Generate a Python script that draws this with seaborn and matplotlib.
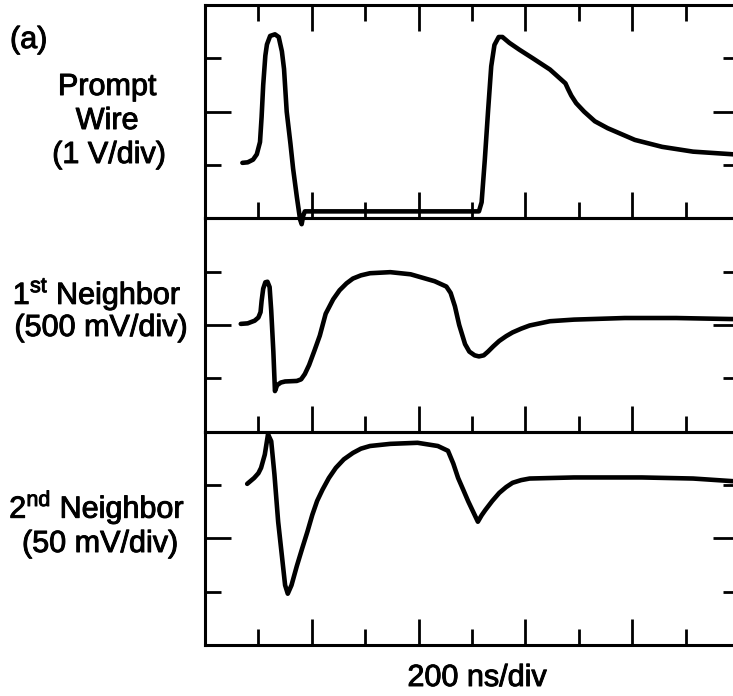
import numpy as np
import pandas as pd
import matplotlib
matplotlib.use("Agg")
import matplotlib.pyplot as plt
import matplotlib.patheffects as pe
import seaborn as sns
from matplotlib.ticker import FixedLocator

sns.set_style("white")
plt.rcParams['font.family'] = ['Liberation Sans', 'DejaVu Sans']
plt.rcParams['mathtext.fontset'] = 'custom'
plt.rcParams['mathtext.rm'] = 'Liberation Sans'

# ---- data (x in time divisions of 200 ns, y in vertical divisions) ----
prompt_x = [0.70, 0.80, 0.90, 0.97, 1.03, 1.06, 1.09, 1.13, 1.16, 1.22, 1.31, 1.38, 1.44, 1.48, 1.53, 1.60, 1.65, 1.72, 1.78, 1.81, 1.84, 1.87,
            5.13, 5.18, 5.24, 5.30, 5.36, 5.42, 5.50, 5.57, 5.70, 5.89, 6.14, 6.46, 6.75, 6.80, 6.86, 6.95, 7.10, 7.30, 7.54, 8.05, 8.56, 9.14, 9.89, 10.0]
prompt_y = [-0.96, -0.95, -0.90, -0.80, -0.57, -0.10, 0.50, 1.05, 1.26, 1.42, 1.45, 1.40, 1.13, 0.80, 0.0, -0.60, -1.07, -1.60, -2.02, -2.11, -1.95, -1.87,
            -1.87, -1.70, -0.90, 0.00, 0.85, 1.25, 1.40, 1.40, 1.29, 1.16, 1.00, 0.79, 0.53, 0.42, 0.30, 0.16, 0.00, -0.18, -0.31, -0.53, -0.66, -0.75, -0.80, -0.81]

first_x = [0.67, 0.80, 0.93, 1.00, 1.04, 1.06, 1.09, 1.13, 1.17, 1.21, 1.24, 1.28, 1.31, 1.35, 1.42, 1.50, 1.72, 1.80, 1.87, 1.95,
           2.05, 2.15, 2.26, 2.40, 2.52, 2.65, 2.77, 2.92, 3.09, 3.47, 3.85, 4.30, 4.52, 4.60, 4.68, 4.76, 4.87, 4.95, 5.05, 5.13,
           5.22, 5.30, 5.40, 5.51, 5.64, 5.76, 5.92, 6.08, 6.46, 6.91, 7.86, 8.82, 9.89, 10.0]
first_y = [0.02, 0.03, 0.08, 0.14, 0.24, 0.45, 0.68, 0.80, 0.81, 0.71, 0.27, -0.50, -1.24, -1.13, -1.08, -1.06, -1.05, -1.02, -0.92, -0.75,
           -0.48, -0.20, 0.21, 0.48, 0.65, 0.78, 0.87, 0.93, 0.97, 0.99, 0.95, 0.82, 0.72, 0.60, 0.35, 0.00, -0.36, -0.50, -0.57, -0.59,
           -0.57, -0.50, -0.40, -0.30, -0.21, -0.14, -0.07, -0.01, 0.07, 0.10, 0.13, 0.13, 0.11, 0.11]

second_x = [0.79, 0.92, 1.00, 1.05, 1.12, 1.18, 1.24, 1.30, 1.37, 1.44, 1.50, 1.55, 1.62, 1.72, 1.82, 1.92, 2.01, 2.10, 2.20, 2.32,
            2.45, 2.60, 2.77, 2.92, 3.09, 3.47, 3.98, 4.36, 4.55, 4.65, 4.74, 4.84, 4.93, 5.02, 5.11, 5.18, 5.25, 5.38, 5.51, 5.64,
            5.76, 5.92, 6.08, 6.91, 8.18, 9.14, 9.89, 10.0]
second_y = [1.02, 1.13, 1.22, 1.32, 1.57, 1.95, 1.82, 1.20, 0.31, -0.33, -0.88, -1.04, -0.88, -0.52, -0.19, 0.13, 0.44, 0.70, 0.91, 1.13,
            1.32, 1.48, 1.60, 1.68, 1.73, 1.77, 1.79, 1.73, 1.64, 1.40, 1.13, 0.90, 0.69, 0.50, 0.31, 0.43, 0.53, 0.70, 0.85, 0.96,
            1.04, 1.09, 1.12, 1.14, 1.14, 1.12, 1.07, 1.06]

panel_labels = [["Prompt", "Wire", "(1 V/div)"],
                ["1$^{\\mathregular{st}}$ Neighbor", "(500 mV/div)"],
                ["2$^{\\mathregular{nd}}$ Neighbor", "(50 mV/div)"]]
x_label = "200 ns/div"
fig_label = "(a)"

series = [(prompt_x, prompt_y), (first_x, first_y), (second_x, second_y)]

# ---- layout ----
W, H = 733, 696
fig = plt.figure(figsize=(W / 100, H / 100), dpi=100)
left_px, right_px = 205, 739
top_px, panel_h = 5, 213.3

axes = []
for i, (xs, ys) in enumerate(series):
    t = top_px + i * panel_h
    ax = fig.add_axes([left_px / W, 1 - (t + panel_h) / H, (right_px - left_px) / W, panel_h / H])
    df = pd.DataFrame({"t": xs, "v": ys})
    sns.lineplot(data=df, x="t", y="v", sort=False, estimator=None, ax=ax,
                 color="black", linewidth=3.3, clip_on=False)
    for ln in ax.lines:
        ln.set_solid_joinstyle("round")
        ln.set_solid_capstyle("round")
    ax.set_xlim(0, 10)
    ax.set_ylim(-2, 2)
    ax.set_xlabel("")
    ax.set_ylabel("")
    ax.xaxis.set_major_locator(FixedLocator([2, 4, 6, 8]))
    ax.xaxis.set_minor_locator(FixedLocator([1, 3, 5, 7, 9]))
    ax.yaxis.set_major_locator(FixedLocator([0]))
    ax.yaxis.set_minor_locator(FixedLocator([-1, 1]))
    ax.tick_params(which="both", direction="in", labelbottom=False, labelleft=False,
                   labeltop=False, labelright=False, color="black",
                   bottom=True, left=True, right=True, top=(i == 0))
    ax.tick_params(which="major", length=18.5, width=2.0)
    ax.tick_params(which="minor", length=11.5, width=2.0)
    for s in ax.spines.values():
        s.set_visible(True)
        s.set_linewidth(2.2)
        s.set_color("black")
    ax.set_facecolor("none")
    axes.append(ax)

stroke = [pe.withStroke(linewidth=0.7, foreground="black")]

def ftext(x, y, s, **kw):
    fig.text(x / W, 1 - y / H, s, fontsize=22, color="black", path_effects=stroke, **kw)

ftext(10, 48, fig_label, ha="left", va="baseline")
ftext(107, 95, panel_labels[0][0], ha="center", va="baseline")
ftext(107, 129, panel_labels[0][1], ha="center", va="baseline")
ftext(109, 163, panel_labels[0][2], ha="center", va="baseline")
ftext(97, 304, panel_labels[1][0], ha="center", va="baseline")
ftext(101, 336, panel_labels[1][1], ha="center", va="baseline")
ftext(97, 518, panel_labels[2][0], ha="center", va="baseline")
ftext(100, 552, panel_labels[2][1], ha="center", va="baseline")
ftext(477, 686, x_label, ha="center", va="baseline")

fig.savefig("out.png", dpi=100)
